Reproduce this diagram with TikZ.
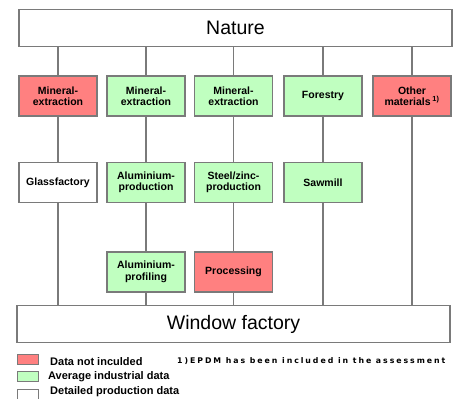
\documentclass[tikz,border=0pt]{standalone}
\usepackage{fontspec}
\setmainfont{Liberation Sans}
\newfontfamily\notefont{DejaVu Sans}
\usetikzlibrary{positioning}
\definecolor{nodata}{HTML}{FF8080}
\definecolor{avgdata}{HTML}{C0FFC0}
\definecolor{edgegray}{HTML}{7A7A7A}

\begin{document}
\begin{tikzpicture}[x=1pt, y=-1pt,
  box/.style={draw=edgegray, line width=1.2pt, minimum width=78pt, minimum height=40pt,
    align=center, inner sep=1pt, font=\bfseries\fontsize{10.5}{11.5}\selectfont},
  wide/.style={draw=edgegray, line width=1.2pt, minimum width=433pt, minimum height=37pt,
    font=\fontsize{19.5}{20}\selectfont},
  link/.style={draw=edgegray, line width=1.2pt},
  swatch/.style={draw=edgegray, line width=1pt, minimum width=21pt, minimum height=10pt, inner sep=0pt},
  legtext/.style={anchor=west, inner sep=0pt, font=\bfseries\fontsize{11}{12}\selectfont}]
\useasboundingbox (0,0) rectangle (462,398);
% top and bottom
\node[wide] (nature) at (235.5,28) {Nature};
\node[wide] (window) at (233.5,324) {Window factory};
% first row
\node[box, fill=nodata]  (min-a)  at (58,96)    {Mineral-\\extraction};
\node[box, fill=avgdata] (min-b)  at (146,96)   {Mineral-\\extraction};
\node[box, fill=avgdata] (min-c)  at (233.5,96) {Mineral-\\extraction};
\node[box, fill=avgdata] (forest) at (323,96)   {Forestry};
\node[box, fill=nodata]  (other)  at (412,96)   {Other\\materials\,\textsuperscript{1)}};
% second row
\node[box, fill=white]   (glass)  at (58,182.5)    {Glassfactory};
\node[box, fill=avgdata] (alu)    at (146,182.5)   {Aluminium-\\production};
\node[box, fill=avgdata] (steel)  at (233.5,182.5) {Steel/zinc-\\production};
\node[box, fill=avgdata] (sawmill) at (323,182.5)  {Sawmill};
% third row
\node[box, fill=avgdata] (profil) at (146,272)   {Aluminium-\\profiling};
\node[box, fill=nodata]  (proc)   at (233.5,272) {Processing};

% links
\foreach \n in {min-a, min-b, min-c, forest, other}
  \draw[link] (nature.south -| \n) -- (\n.north);
\draw[link] (min-a) -- (glass);
\draw[link] (min-b) -- (alu);
\draw[link] (min-c) -- (steel);
\draw[link] (forest) -- (sawmill);
\draw[link] (alu) -- (profil);
\draw[link] (steel) -- (proc);
\foreach \n in {glass, profil, proc, sawmill, other}
  \draw[link] (\n.south) -- (\n |- window.north);

% legend
\node[swatch, fill=nodata]  (key-a) at (27.5,359)   {};
\node[swatch, fill=avgdata] (key-b) at (27.5,376.5) {};
\node[swatch, fill=white]   (key-c) at (27.5,394)   {};
\node[legtext] (txt-a) at (50,362) {Data not inculded};
\node[legtext] (txt-b) at (48,377) {Average industrial data};
\node[legtext] (txt-c) at (50,392) {Detailed production data};
\node[anchor=west, inner sep=0pt, font=\notefont\bfseries\fontsize{7.8}{8}\selectfont\addfontfeatures{LetterSpace=25}]
  (note) at (177,361) {1)EPDM has been included in the assessment};
\end{tikzpicture}
\end{document}
